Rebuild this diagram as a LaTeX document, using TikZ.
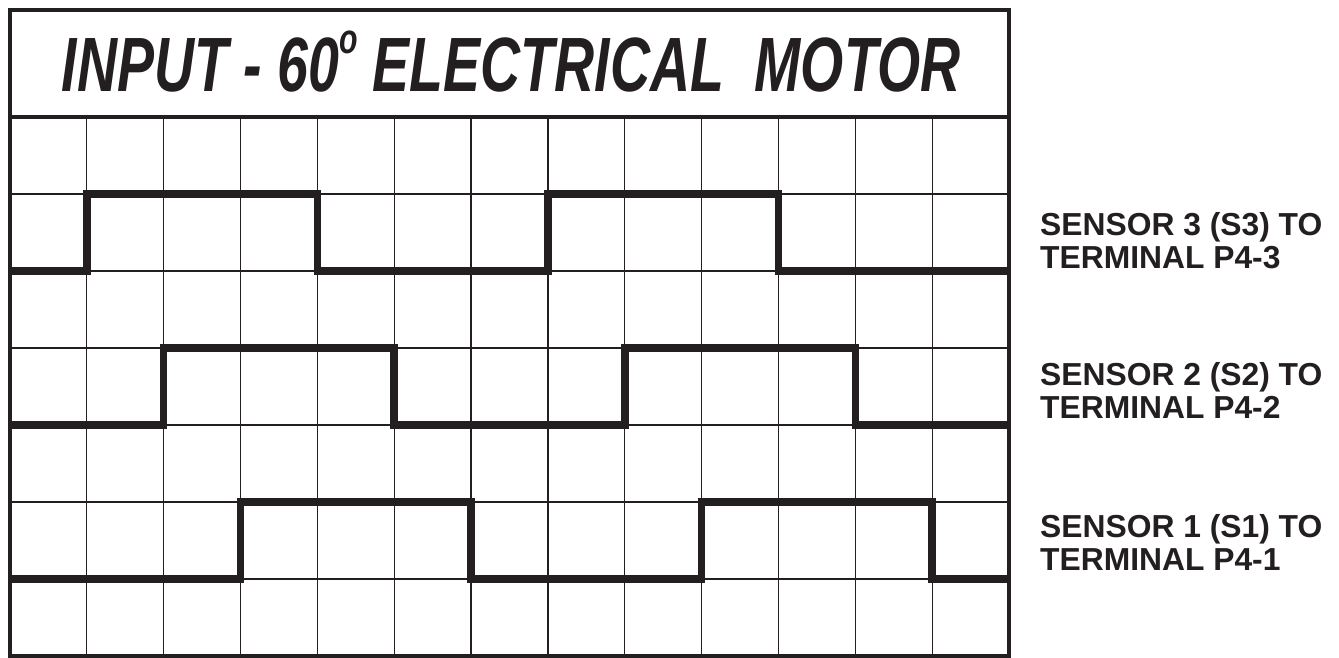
\documentclass[tikz,border=0pt]{standalone}
\usepackage{fontspec}
\setmainfont{Liberation Sans}
\definecolor{ink}{RGB}{35,31,32}
\tikzset{
  gridline/.style={draw=ink, line width=1.2pt},
  frame/.style={draw=ink, line width=4pt},
  wave/.style={draw=ink, line width=7.5pt, line join=miter},
  titletext/.style={anchor=base, inner sep=0pt, text=ink, font=\fontsize{77}{80}\selectfont\bfseries\itshape},
  senslabel/.style={anchor=base west, inner sep=0pt, text=ink, font=\fontsize{31.8}{33}\selectfont\bfseries},
}
\begin{document}
\begin{tikzpicture}[x=1pt,y=-1pt]
\useasboundingbox (0,0) rectangle (1339,658);
\fill[white] (0,0) rectangle (1339,658);
% column and row coordinates
\foreach \i in {0,...,13} \coordinate (c\i) at ({10+\i*76.846},0);
\foreach \j in {0,...,7} \coordinate (r\j) at (0,{117+\j*77});
% grid
\foreach \i in {1,...,12} \draw[gridline] (c\i |- r0) -- (c\i |- r7);
\foreach \j in {1,...,6} \draw[gridline] (c0 |- r\j) -- (c13 |- r\j);
% waves
\draw[wave] (c0 |- r2) -- (c1 |- r2) -- (c1 |- r1) -- (c4 |- r1) -- (c4 |- r2) -- (c7 |- r2) -- (c7 |- r1) -- (c10 |- r1) -- (c10 |- r2) -- (c13 |- r2);
\draw[wave] (c0 |- r4) -- (c2 |- r4) -- (c2 |- r3) -- (c5 |- r3) -- (c5 |- r4) -- (c8 |- r4) -- (c8 |- r3) -- (c11 |- r3) -- (c11 |- r4) -- (c13 |- r4);
\draw[wave] (c0 |- r6) -- (c3 |- r6) -- (c3 |- r5) -- (c6 |- r5) -- (c6 |- r6) -- (c9 |- r6) -- (c9 |- r5) -- (c12 |- r5) -- (c12 |- r6) -- (c13 |- r6);
% frame
\draw[frame] (10,10) rectangle (1009,656);
\draw[frame] (c0 |- r0) -- (c13 |- r0);
% title
\node[titletext] (title) at (511,92) {\scalebox{0.72}[1]{INPUT - 60\raisebox{38pt}{\fontsize{42}{42}\selectfont o} ELECTRICAL\ \ MOTOR}};
% labels
\node[senslabel] (s3) at (1040,235) {\begin{tabular}[t]{@{}l@{}}SENSOR 3 (S3) TO\\TERMINAL P4-3\end{tabular}};
\node[senslabel] (s2) at (1040,385) {\begin{tabular}[t]{@{}l@{}}SENSOR 2 (S2) TO\\TERMINAL P4-2\end{tabular}};
\node[senslabel] (s1) at (1040,537) {\begin{tabular}[t]{@{}l@{}}SENSOR 1 (S1) TO\\TERMINAL P4-1\end{tabular}};
\end{tikzpicture}
\end{document}
